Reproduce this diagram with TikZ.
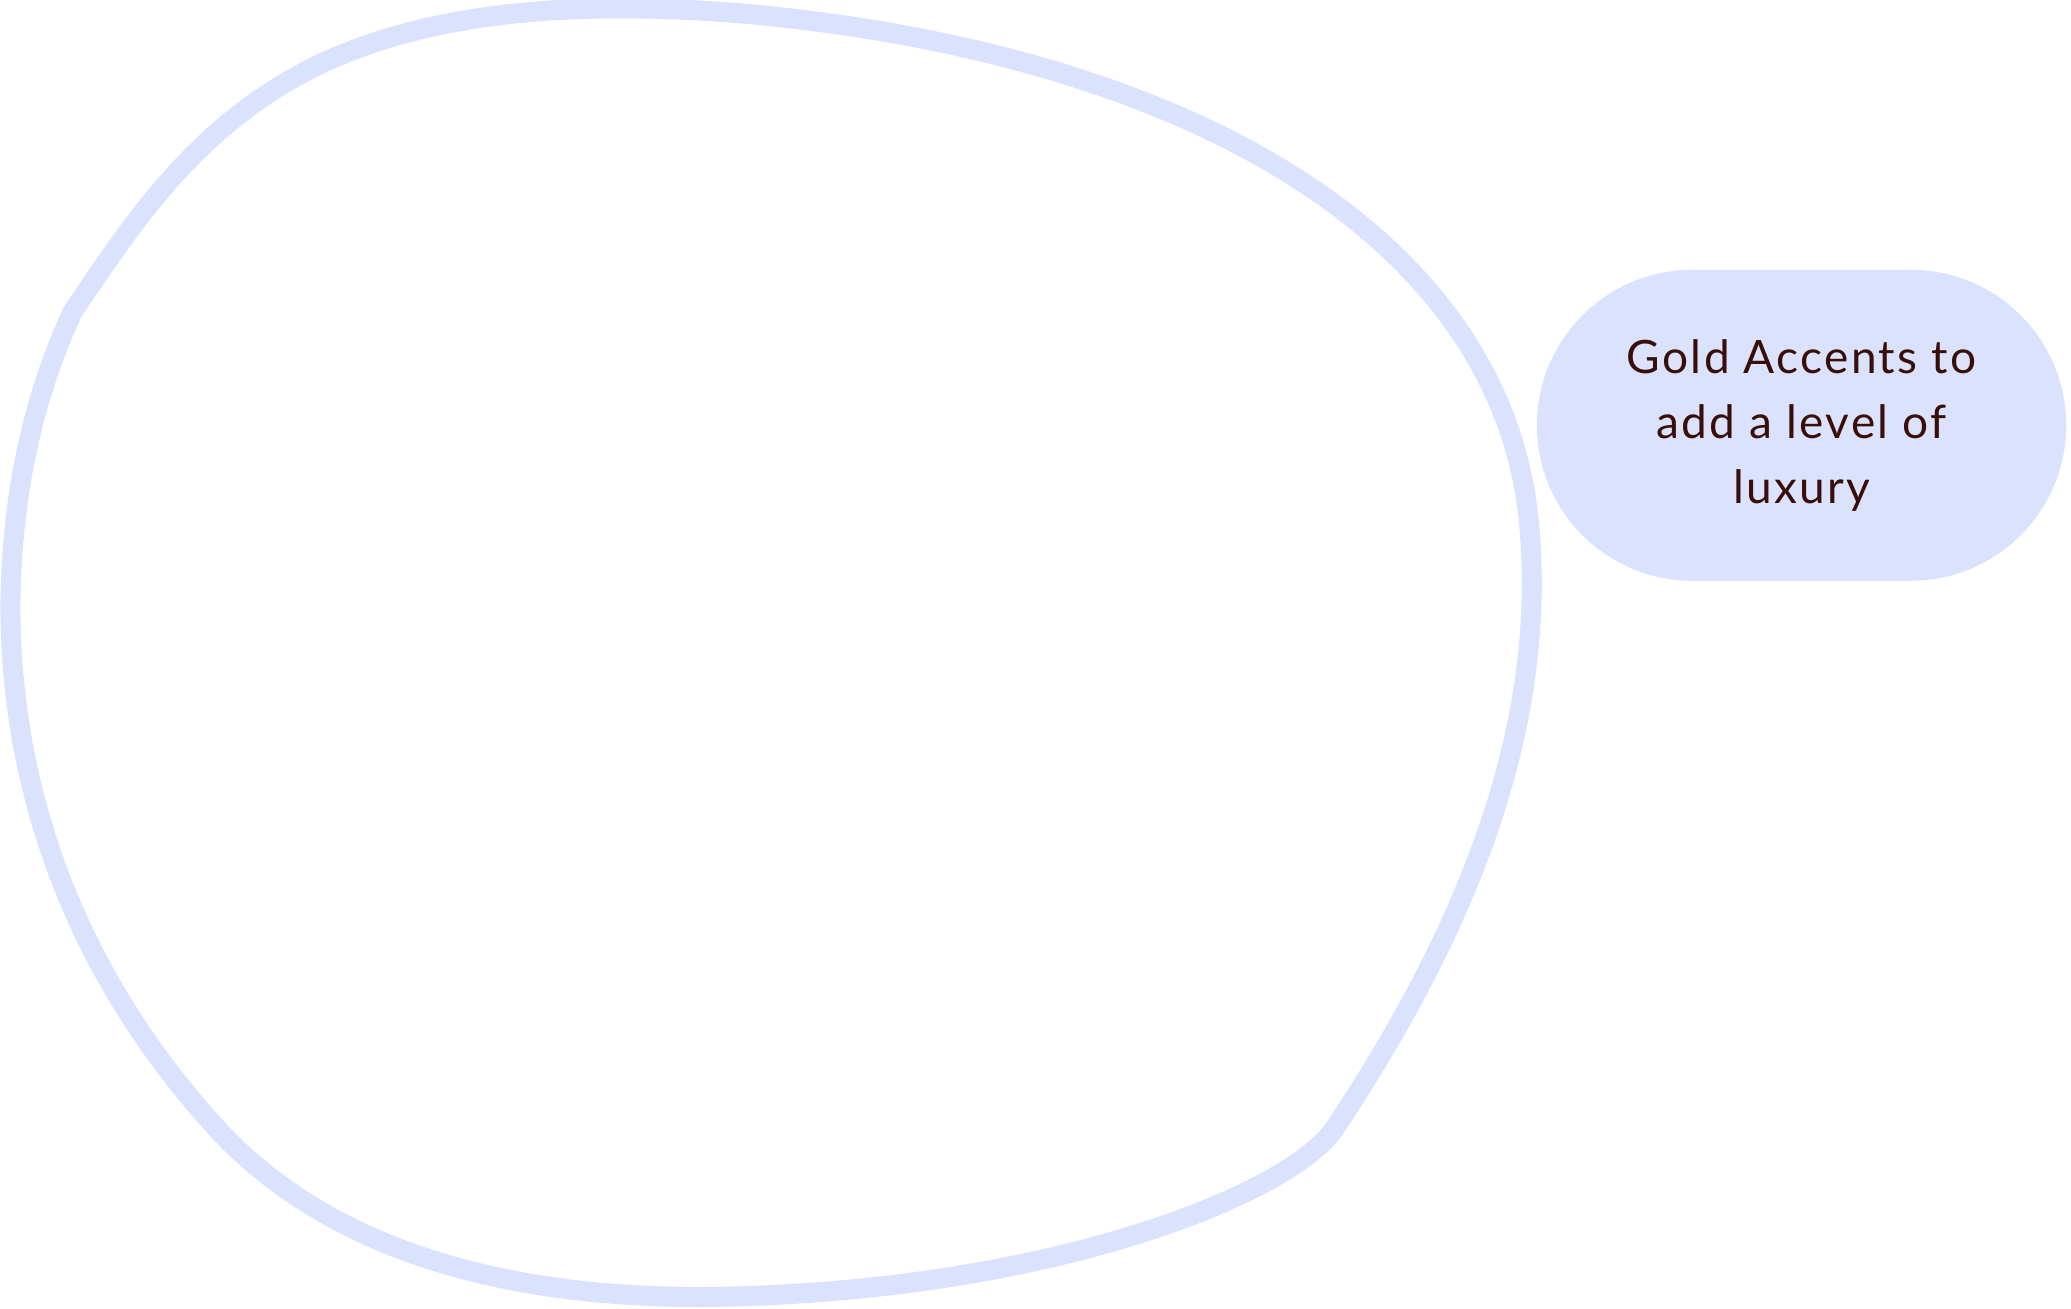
\documentclass[tikz,border=0pt]{standalone}
\usepackage{fontspec}
\setmainfont{Lato}
\newfontfamily\pillfont{Lato}[LetterSpace=5.0]
\usepackage{xcolor}
\definecolor{blobblue}{RGB}{218, 226, 253}
\definecolor{darkbrown}{RGB}{58, 14, 8}
\usepackage{tikz}
\usetikzlibrary{positioning, shapes.misc}

\begin{document}
\begin{tikzpicture}[x=1.3208pt, y=-1.3208pt]

  \tikzstyle{blobline} = [
    draw=blobblue, line width=20pt,
    line join=round, line cap=round
  ]
  \tikzstyle{pillbox} = [
    rounded rectangle, draw=none, fill=blobblue,
    minimum width=536pt, minimum height=311pt,
    align=center, text=darkbrown,
    font=\pillfont\fontsize{46}{65}\selectfont
  ]

  \useasboundingbox (0,0) rectangle (1568,991);

  \coordinate (kinkL) at (55,236);
  \coordinate (kinkR) at (1010,855);

  \draw[blobline] (kinkL)
    .. controls (100,170) and (150,90) .. (250,45)
    .. controls (330,10) and (430,0) .. (560,10)
    .. controls (900,40) and (1140,180) .. (1158,400)
    .. controls (1171,554) and (1110,705) .. (kinkR)
    .. controls (975,905) and (790,980) .. (530,982)
    .. controls (400,982) and (255,955) .. (162,852)
    .. controls (38,715) and (6,565) .. (8,450)
    .. controls (10,360) and (30,290) .. (kinkL) -- cycle;

  \node[pillbox] (accent) at (1364,322)
    {Gold Accents to\\add a level of\\luxury};

\end{tikzpicture}
\end{document}
